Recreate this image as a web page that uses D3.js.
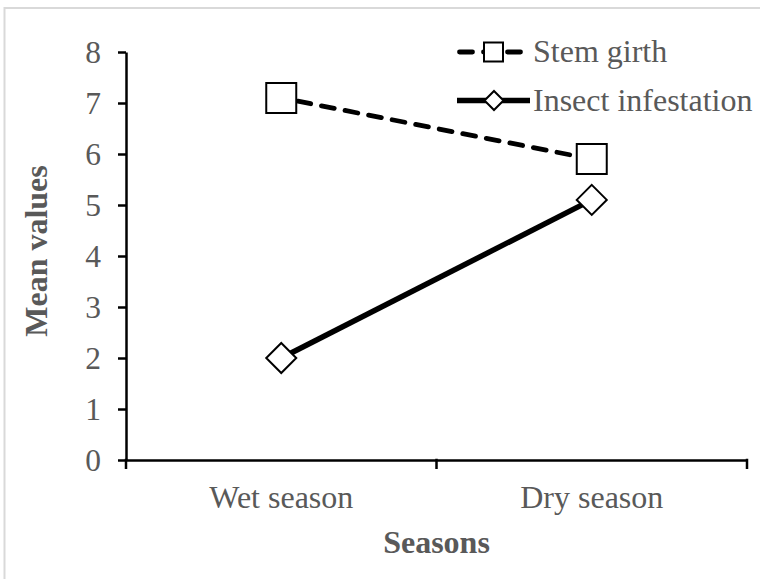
<!DOCTYPE html>
<html>
<head>
  <meta charset="utf-8">
  <script src="https://d3js.org/d3.v7.min.js"></script>
  <style>
    body { margin: 0; background: #fff; }
    svg { display: block; }
  </style>
</head>
<body>
  <script type="text/javascript">

    // chart values
    var seasons = ["Wet season", "Dry season"];
    var stemGirth = [7.1, 5.9];
    var insectInfestation = [2.0, 5.1];
    var yTicks = [0, 1, 2, 3, 4, 5, 6, 7, 8];
    var seriesNames = ["Stem girth", "Insect infestation"];

    var width = 760, height = 579;
    var textGray = "#595959";
    var serif = "'Liberation Serif', 'Times New Roman', serif";

    var svg = d3.select("body")
      .append("svg")
        .attr("width", width)
        .attr("height", height);

    // light frame on top and left, as in the source image
    svg.append("path")
      .attr("d", "M4.5," + height + "V8H" + width)
      .attr("fill", "none")
      .attr("stroke", "#d9d9d9")
      .attr("stroke-width", 2);

    var x = d3.scaleBand()
      .domain(seasons)
      .range([126, 747])
      .padding(0);

    var y = d3.scaleLinear()
      .domain([0, 8])
      .range([460, 52]);

    /*
      y axis
    */
    var yAxis = svg.append("g")
      .attr("transform", "translate(126,0)")
      .call(d3.axisLeft(y).tickValues(yTicks).tickSize(8).tickSizeOuter(0).tickPadding(17));

    yAxis.select(".domain")
      .attr("stroke", "#000")
      .attr("stroke-width", 2.5);
    yAxis.selectAll(".tick line")
      .attr("stroke", "#000")
      .attr("stroke-width", 2.5);
    yAxis.selectAll(".tick text")
      .attr("fill", textGray)
      .style("font-family", serif)
      .style("font-size", "31.5px");

    /*
      x axis: line, ticks on the category boundaries, labels in the middle
    */
    var xAxis = svg.append("g")
      .attr("transform", "translate(0,460)")
      .call(d3.axisBottom(x).tickSize(0).tickSizeOuter(0).tickPadding(25.5));

    xAxis.select(".domain")
      .attr("stroke", "#000")
      .attr("stroke-width", 2.5);
    xAxis.selectAll(".tick text")
      .attr("fill", textGray)
      .style("font-family", serif)
      .style("font-size", "32px");

    var bounds = seasons.map(function (d) { return x(d); });
    bounds.push(x(seasons[seasons.length - 1]) + x.bandwidth());

    xAxis.selectAll("line.bound")
      .data(bounds)
      .enter()
      .append("line")
        .attr("class", "bound")
        .attr("x1", function (d) { return d; })
        .attr("x2", function (d) { return d; })
        .attr("y1", -1.25)
        .attr("y2", 9)
        .attr("stroke", "#000")
        .attr("stroke-width", 2.5);

    // axis titles
    svg.append("text")
      .attr("x", (x.range()[0] + x.range()[1]) / 2)
      .attr("y", 553)
      .attr("text-anchor", "middle")
      .attr("fill", textGray)
      .style("font-family", serif)
      .style("font-size", "32px")
      .style("font-weight", "bold")
      .text("Seasons");

    svg.append("text")
      .attr("transform", "translate(47,251) rotate(-90)")
      .attr("text-anchor", "middle")
      .attr("fill", textGray)
      .style("font-family", serif)
      .style("font-size", "32px")
      .style("font-weight", "bold")
      .text("Mean values");

    /*
      series
    */
    var cx = function (d, i) { return x(seasons[i]) + x.bandwidth() / 2; };

    var line = d3.line()
      .x(cx)
      .y(function (d) { return y(d); });

    svg.append("path")
      .datum(stemGirth)
      .attr("d", line)
      .attr("fill", "none")
      .attr("stroke", "#000")
      .attr("stroke-width", 4.8)
      .attr("stroke-dasharray", "13,11")
      .attr("stroke-dashoffset", 7)
      .attr("stroke-linecap", "round");

    svg.append("path")
      .datum(insectInfestation)
      .attr("d", line)
      .attr("fill", "none")
      .attr("stroke", "#000")
      .attr("stroke-width", 5.5);

    var square = d3.symbol().type(d3.symbolSquare).size(30 * 30);
    var diamond = function (r) {
      return "M0," + (-r) + "L" + r + ",0L0," + r + "L" + (-r) + ",0Z";
    };

    svg.selectAll("path.sq")
      .data(stemGirth)
      .enter()
      .append("path")
        .attr("class", "sq")
        .attr("d", square)
        .attr("transform", function (d, i) { return "translate(" + cx(d, i) + "," + y(d) + ")"; })
        .attr("fill", "#fff")
        .attr("stroke", "#000")
        .attr("stroke-width", 2);

    svg.selectAll("path.dm")
      .data(insectInfestation)
      .enter()
      .append("path")
        .attr("class", "dm")
        .attr("d", diamond(15))
        .attr("transform", function (d, i) { return "translate(" + cx(d, i) + "," + y(d) + ")"; })
        .attr("fill", "#fff")
        .attr("stroke", "#000")
        .attr("stroke-width", 2);

    /*
      legend
    */
    var legend = svg.append("g");
    var rows = [52, 100.5];

    // Stem girth row
    legend.append("line")
      .attr("x1", 459.5).attr("x2", 521)
      .attr("y1", rows[0]).attr("y2", rows[0])
      .attr("stroke", "#000")
      .attr("stroke-width", 4.8)
      .attr("stroke-dasharray", "13,11")
      .attr("stroke-linecap", "round");
    legend.append("rect")
      .attr("x", 493.5 - 9.5).attr("y", rows[0] - 9.5)
      .attr("width", 19).attr("height", 19)
      .attr("fill", "#fff")
      .attr("stroke", "#000")
      .attr("stroke-width", 2);

    // Insect infestation row
    legend.append("line")
      .attr("x1", 457).attr("x2", 530)
      .attr("y1", rows[1]).attr("y2", rows[1])
      .attr("stroke", "#000")
      .attr("stroke-width", 5.5);
    legend.append("path")
      .attr("d", diamond(9.5))
      .attr("transform", "translate(494," + rows[1] + ")")
      .attr("fill", "#fff")
      .attr("stroke", "#000")
      .attr("stroke-width", 2);

    legend.selectAll("text")
      .data(seriesNames)
      .enter()
      .append("text")
        .attr("x", 533)
        .attr("y", function (d, i) { return rows[i] + 10.3; })
        .attr("fill", textGray)
        .style("font-family", serif)
        .style("font-size", "32px")
        .text(function (d) { return d; });

  </script>
</body>
</html>
